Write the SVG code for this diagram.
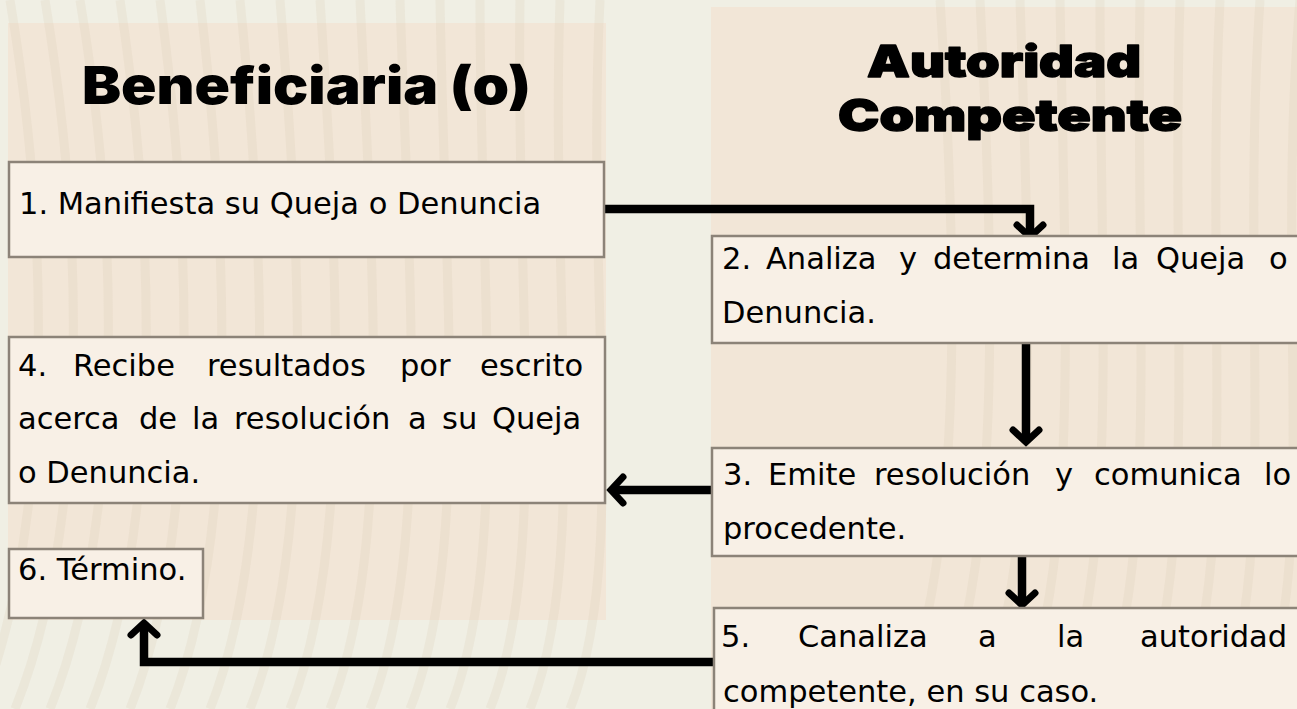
<svg xmlns="http://www.w3.org/2000/svg" width="1297" height="709" viewBox="0 0 1297 709">
<style>
.panel{fill:#f2e6d7;}
.box{fill:#f8f0e6;stroke:#8c8378;stroke-width:2.5;}
.t{font-family:"DejaVu Sans","Liberation Sans",sans-serif;font-size:30.5px;fill:#000;}
.h{font-family:"Inter","Liberation Sans",sans-serif;font-weight:900;fill:#000;}
.hs{stroke:#000;stroke-width:1.4;stroke-linejoin:round;}
.stripe{fill:none;stroke:#d6c9b1;stroke-width:9;opacity:0.2;}
.conn{fill:none;stroke:#000;stroke-width:8.5;stroke-linejoin:miter;marker-end:url(#arr);}
</style>
<defs>
<marker id="arr" markerUnits="userSpaceOnUse" viewBox="-22 -20 32 40" markerWidth="32" markerHeight="40" refX="0" refY="0" orient="auto">
<path d="M-12,-13 L0,0 L-12,13" fill="none" stroke="#000" stroke-width="7" stroke-linecap="round" stroke-linejoin="miter"/>
</marker>
</defs>
<rect x="0" y="0" width="1297" height="709" fill="#f0efe4"/>
<g id="lanes">
<rect class="panel" x="8" y="23" width="598" height="597"/>
<rect class="panel" x="711" y="7" width="600" height="710"/>
</g>
<g id="decor">
<path class="stripe" d="M-20,709 C40,560 60,300 10,0"/>
<path class="stripe" d="M15,709 C75,560 95,300 45,0"/>
<path class="stripe" d="M50,709 C110,560 130,300 80,0"/>
<path class="stripe" d="M90,709 C150,560 165,300 120,0"/>
<path class="stripe" d="M130,709 C190,560 200,300 160,0"/>
<path class="stripe" d="M170,709 C230,560 235,300 200,0"/>
<path class="stripe" d="M210,709 C270,560 270,300 240,0"/>
<path class="stripe" d="M250,709 C310,560 305,300 280,0"/>
<path class="stripe" d="M290,709 C350,560 340,300 320,0"/>
<path class="stripe" d="M330,709 C390,560 375,300 360,0"/>
<path class="stripe" d="M370,709 C430,560 410,300 400,0"/>
<path class="stripe" d="M410,709 C470,560 445,300 440,0"/>
<path class="stripe" d="M450,709 C510,560 480,300 480,0"/>
<path class="stripe" d="M490,709 C550,560 515,300 520,0"/>
<path class="stripe" d="M530,709 C590,560 550,300 560,0"/>
<path class="stripe" d="M570,709 C630,560 585,300 600,0"/>
<path class="stripe" d="M900,709 C960,560 960,300 940,0"/>
<path class="stripe" d="M940,709 C1000,560 995,300 980,0"/>
<path class="stripe" d="M980,709 C1040,560 1030,300 1020,0"/>
<path class="stripe" d="M1020,709 C1080,560 1065,300 1060,0"/>
<path class="stripe" d="M1060,709 C1120,560 1100,300 1100,0"/>
<path class="stripe" d="M1100,709 C1160,560 1135,300 1140,0"/>
<path class="stripe" d="M1140,709 C1200,560 1170,300 1180,0"/>
<path class="stripe" d="M1180,709 C1240,560 1205,300 1220,0"/>
<path class="stripe" d="M1220,709 C1280,560 1240,300 1260,0"/>
<path class="stripe" d="M1260,709 C1320,560 1275,300 1300,0"/>
</g>
<g id="title-beneficiaria">
<text class="h" x="82" y="104" font-size="52" textLength="449" lengthAdjust="spacingAndGlyphs">Beneficiaria (o)</text>
</g>
<g id="title-autoridad">
<text class="h hs" x="867" y="77" font-size="44" textLength="274" lengthAdjust="spacingAndGlyphs">Autoridad</text>
<text class="h hs" x="838" y="131" font-size="44" textLength="344" lengthAdjust="spacingAndGlyphs">Competente</text>
</g>
<g id="connectors">
<path class="conn" d="M604,209 H1030 V237"/>
<path class="conn" d="M1026,343 V442"/>
<path class="conn" d="M712,490 H611"/>
<path class="conn" d="M1022,556 V605"/>
<path class="conn" d="M715,662 H144 V623"/>
</g>
<g id="node1">
<rect class="box" x="9" y="162" width="595" height="95"/>
<text class="t" x="19" y="214">1. Manifiesta su Queja o Denuncia</text>
</g>
<g id="node2">
<rect class="box" x="712" y="236" width="600" height="107"/>
<text class="t" y="269"><tspan x="722">2.</tspan> <tspan x="766">Analiza</tspan> <tspan x="899">y</tspan> <tspan x="933">determina</tspan> <tspan x="1112">la</tspan> <tspan x="1156">Queja</tspan> <tspan x="1269">o</tspan></text>
<text class="t" x="722" y="323">Denuncia.</text>
</g>
<g id="node3">
<rect class="box" x="712" y="448" width="600" height="108"/>
<text class="t" y="485"><tspan x="723">3.</tspan> <tspan x="768">Emite</tspan> <tspan x="874">resolución</tspan> <tspan x="1055">y</tspan> <tspan x="1094">comunica</tspan> <tspan x="1264">lo</tspan></text>
<text class="t" x="723" y="539">procedente.</text>
</g>
<g id="node4">
<rect class="box" x="9" y="337" width="596" height="166"/>
<text class="t" y="376"><tspan x="18">4.</tspan> <tspan x="73">Recibe</tspan> <tspan x="207">resultados</tspan> <tspan x="400">por</tspan> <tspan x="480">escrito</tspan></text>
<text class="t" y="429"><tspan x="18">acerca</tspan> <tspan x="139">de</tspan> <tspan x="192">la</tspan> <tspan x="234">resolución</tspan> <tspan x="408">a</tspan> <tspan x="442">su</tspan> <tspan x="492">Queja</tspan></text>
<text class="t" x="18" y="483">o Denuncia.</text>
</g>
<g id="node5">
<rect class="box" x="714" y="608" width="600" height="120"/>
<text class="t" y="647"><tspan x="721">5.</tspan> <tspan x="798">Canaliza</tspan> <tspan x="978">a</tspan> <tspan x="1057">la</tspan> <tspan x="1140">autoridad</tspan></text>
<text class="t" x="723" y="702">competente, en su caso.</text>
</g>
<g id="node6">
<rect class="box" x="9" y="549" width="194" height="69"/>
<text class="t" x="18" y="580">6. Término.</text>
</g>
</svg>
